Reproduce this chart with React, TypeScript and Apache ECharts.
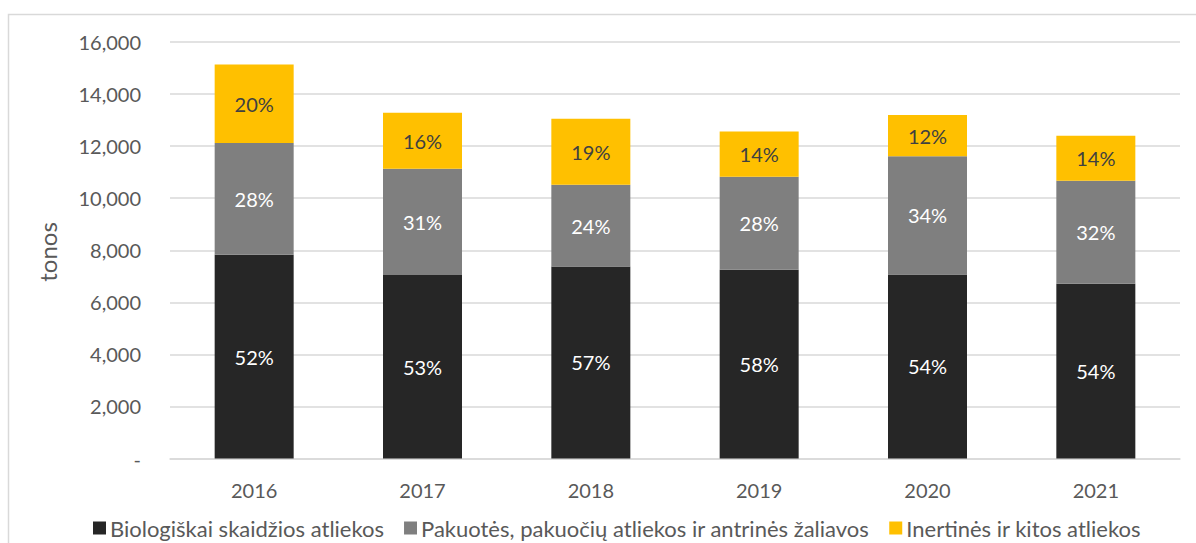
import React, { useEffect, useRef } from "react";
import * as echarts from "echarts";

const years = ["2016", "2017", "2018", "2019", "2020", "2021"];
const bioWaste = [7830, 7050, 7380, 7250, 7070, 6710];
const packWaste = [4290, 4080, 3140, 3570, 4540, 3960];
const inertWaste = [3020, 2150, 2530, 1740, 1590, 1730];
const seriesNames = [
  "Biologiškai skaidžios atliekos",
  "Pakuotės, pakuočių atliekos ir antrinės žaliavos",
  "Inertinės ir kitos atliekos",
];
const yTicks = [0, 2000, 4000, 6000, 8000, 10000, 12000, 14000, 16000];

const FONT = "Lato, 'Open Sans', sans-serif";

export default function App() {
  const ref = useRef<HTMLDivElement>(null);
  useEffect(() => {
    if (!ref.current) return;
    const chart = echarts.init(ref.current, undefined, { renderer: "svg" });
    const totals = years.map((_, i) => bioWaste[i] + packWaste[i] + inertWaste[i]);
    const pct = (arr: number[]) => (p: any) =>
      Math.round((arr[p.dataIndex] / totals[p.dataIndex]) * 100) + "%";
    const mk = (name: string, data: number[], color: string, labelColor: string) => ({
      name,
      type: "bar",
      stack: "total",
      data,
      barWidth: 79,
      itemStyle: { color },
      label: {
        show: true,
        position: "inside",
        color: labelColor,
        fontFamily: FONT,
        fontSize: 20,
        formatter: pct(data),
      },
    });
    chart.setOption({
      animation: false,
      backgroundColor: "#ffffff",
      textStyle: { fontFamily: FONT },
      grid: { left: 170, right: 16, top: 42, bottom: 84.5, containLabel: false },
      graphic: [
        {
          type: "rect",
          shape: { x: 8.5, y: 14.5, width: 1300, height: 700 },
          style: { fill: "none", stroke: "#d9d9d9", lineWidth: 1.5 },
          silent: true,
        },
        {
          type: "text",
          x: 47,
          y: 252,
          rotation: Math.PI / 2,
          style: {
            text: "tonos",
            fill: "#595959",
            fontFamily: FONT,
            fontSize: 24,
            align: "center",
            verticalAlign: "middle",
          },
        },
      ],
      legend: {
        left: 88,
        top: 512,
        itemWidth: 13,
        itemHeight: 13,
        itemGap: 20,
        icon: "rect",
        textStyle: { color: "#595959", fontFamily: FONT, fontSize: 22, padding: [0, 0, 0, -1] },
        data: seriesNames,
      },
      xAxis: {
        type: "category",
        data: years,
        axisTick: { show: false },
        axisLine: { lineStyle: { color: "#d9d9d9", width: 1.5 } },
        axisLabel: { color: "#595959", fontFamily: FONT, fontSize: 20, margin: 21 },
      },
      yAxis: {
        type: "value",
        min: yTicks[0],
        max: yTicks[yTicks.length - 1],
        interval: 2000,
        axisLine: { show: false },
        axisTick: { show: false },
        splitLine: { lineStyle: { color: "#d9d9d9", width: 1.5 } },
        axisLabel: {
          color: "#595959",
          fontFamily: FONT,
          fontSize: 20,
          margin: 29,
          formatter: (v: number) => (v === 0 ? "-" : v.toLocaleString("en-US")),
        },
      },
      series: [
        mk(seriesNames[0], bioWaste, "#262626", "#ffffff"),
        mk(seriesNames[1], packWaste, "#7f7f7f", "#ffffff"),
        mk(seriesNames[2], inertWaste, "#ffc000", "#404040"),
      ],
    });
    return () => chart.dispose();
  }, []);
  return (
    <div
      ref={ref}
      style={{ position: "absolute", left: 0, top: 0, width: 1196, height: 543 }}
    />
  );
}
